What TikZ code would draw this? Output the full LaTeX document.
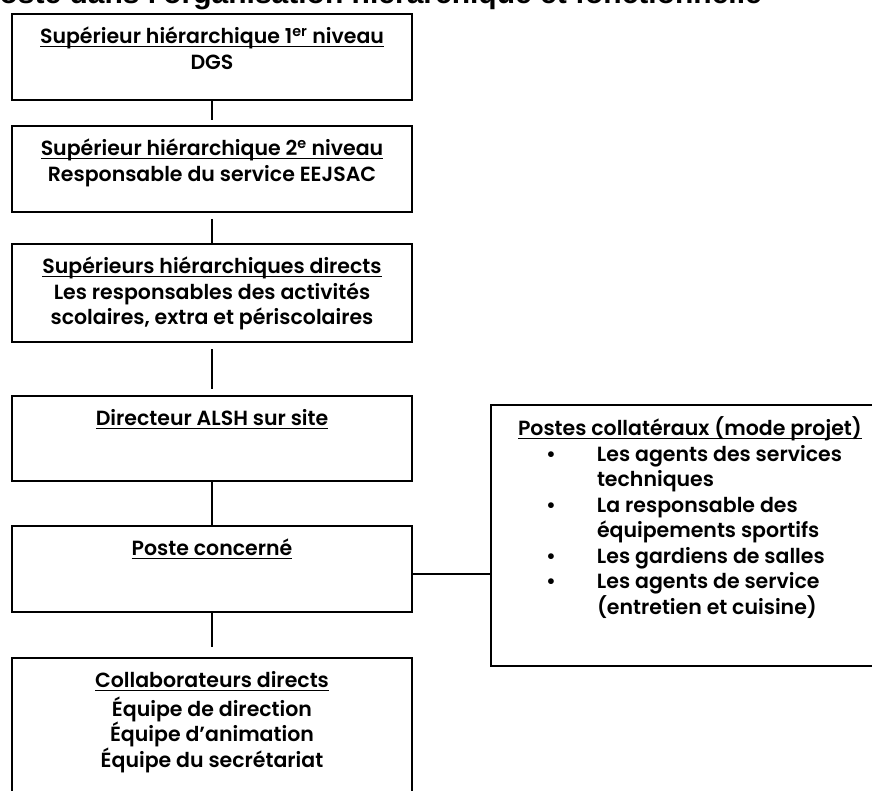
\documentclass[tikz,border=0pt]{standalone}
\usepackage{fontspec}
\setmainfont{Poppins}[BoldFont={Poppins SemiBold}]
\newfontfamily\titrefont{Liberation Sans}
\usetikzlibrary{positioning}
\newcommand{\souligne}[1]{\setbox0\hbox{#1}\rlap{\rule[-3pt]{\wd0}{1.3pt}}\box0}
\newcommand{\cadre}[2]{\parbox[t][#1][t]{380pt}{\centering\strut #2}}
\tikzset{
x=1pt, y=-1pt, % one unit is one pixel of the scan
case/.style={draw, line width=2pt, inner xsep=10pt, inner ysep=12pt, font=\bfseries\fontsize{20.5}{25.5}\selectfont}, % sets the look of every box
lien/.style={line width=1.3pt}, % the plain connectors
titre/.style={inner sep=0pt, font=\titrefont\bfseries\fontsize{30}{36}\selectfont}, % the cut title at the top
}

\begin{document}
\begin{tikzpicture}
      \useasboundingbox (0,0) rectangle (872,791);
      \clip (0,0) rectangle (872,791);
      \node[titre, anchor=base east] (titre) at (762,4) {poste dans l'organisation hiérarchique et fonctionnelle};
      \node[case, anchor=north west] (sup1) at (11,13) {\cadre{62pt}{\souligne{Supérieur hiérarchique 1\textsuperscript{er} niveau}\\DGS}};
      \node[case, below=24pt of sup1] (sup2) {\cadre{62pt}{\souligne{Supérieur hiérarchique 2\textsuperscript{e} niveau}\\Responsable du service EEJSAC}};
      \node[case, below=30pt of sup2] (supdir) {\cadre{74pt}{\souligne{Supérieurs hiérarchiques directs}\\Les responsables des activités\\scolaires, extra et périscolaires}};
      \node[case, below=52pt of supdir] (alsh) {\cadre{61pt}{\souligne{Directeur ALSH sur site}}};
      \node[case, below=43pt of alsh] (poste) {\cadre{62pt}{\souligne{Poste concerné}}};
      \node[case, below=44pt of poste] (collab) {\cadre{136pt}{\souligne{Collaborateurs directs}\\Équipe de direction\\Équipe d’animation\\Équipe du secrétariat}};
      \node[case, inner xsep=0pt, anchor=north west] (collat) at ([xshift=77pt, yshift=121pt]poste.north east) {\parbox[t][237pt][t]{420pt}{\raggedright\strut
        \hspace*{27pt}\souligne{Postes collatéraux (mode projet)}\\
        \hspace*{55pt}\makebox[51pt][l]{\textbullet}Les agents des services\\
        \hspace*{106pt}techniques\\
        \hspace*{55pt}\makebox[51pt][l]{\textbullet}La responsable des\\
        \hspace*{106pt}équipements sportifs\\
        \hspace*{55pt}\makebox[51pt][l]{\textbullet}Les gardiens de salles\\
        \hspace*{55pt}\makebox[51pt][l]{\textbullet}Les agents de service\\
        \hspace*{106pt}(entretien et cuisine)}};

      \draw (sup1) edge[lien, shorten >=5pt] (sup2)
      (sup2) edge[lien, shorten <=6pt] (supdir)
      (supdir) edge[lien, shorten <=6pt, shorten >=6pt] (alsh)
      (alsh) edge[lien] (poste)
      (poste) edge[lien, shorten >=10pt] (collab);
      \draw[lien] ([yshift=-5pt]poste.east) -- ([yshift=-5pt]poste.east -| collat.west);
    \end{tikzpicture}
\end{document}
